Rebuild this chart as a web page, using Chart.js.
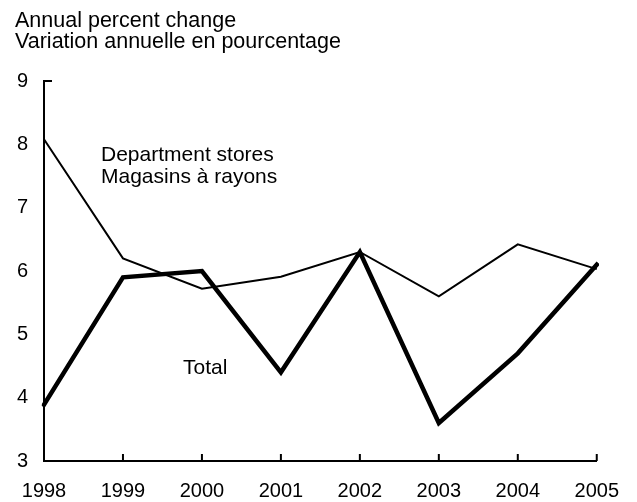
<!DOCTYPE html>
<html>
<head>
<meta charset="utf-8">
<script src="https://cdn.jsdelivr.net/npm/chart.js@4"></script>
<style>
  html, body { margin: 0; padding: 0; background: #fff; }
  #wrap { width: 637px; height: 502px; }
</style>
</head>
<body>
<div id="wrap"><canvas id="chart"></canvas></div>
<script>
// data
const years = ["1998", "1999", "2000", "2001", "2002", "2003", "2004", "2005"];
const departmentStores = [8.08, 6.2, 5.72, 5.91, 6.3, 5.6, 6.42, 6.03];
const total = [3.89, 5.9, 6.0, 4.4, 6.3, 3.6, 4.7, 6.1];
const yTicks = [3, 4, 5, 6, 7, 8, 9];

const FONT = "'Liberation Sans', Arial, sans-serif";

// axis tick marks and text labels
const decor = {
  id: "decor",
  afterDraw(chart) {
    const ctx = chart.ctx;
    const x = chart.scales.x, y = chart.scales.y;
    const bottom = chart.chartArea.bottom, left = chart.chartArea.left;
    ctx.save();
    ctx.strokeStyle = "#000";
    ctx.lineWidth = 2;
    ctx.beginPath();
    for (let i = 1; i < years.length; i++) {
      const px = x.getPixelForTick(i);
      ctx.moveTo(px, bottom);
      ctx.lineTo(px, bottom - 7);
    }
    const top = y.getPixelForValue(9);
    ctx.moveTo(left - 1, top);
    ctx.lineTo(left + 8, top);
    ctx.stroke();

    ctx.fillStyle = "#000";
    ctx.textBaseline = "alphabetic";
    ctx.textAlign = "left";
    ctx.font = "21.5px " + FONT;
    ctx.fillText("Annual percent change", 15, 27);
    ctx.fillText("Variation annuelle en pourcentage", 15, 48);
    ctx.font = "21px " + FONT;
    ctx.fillText("Department stores", 101, 161);
    ctx.fillText("Magasins à rayons", 101, 183);
    ctx.fillText("Total", 183, 374);
    ctx.restore();
  }
};

new Chart(document.getElementById("chart"), {
  type: "line",
  data: {
    labels: years,
    datasets: [
      {
        label: "Department stores / Magasins à rayons",
        data: departmentStores,
        borderColor: "#000",
        borderWidth: 2,
        pointRadius: 0,
        tension: 0,
      },
      {
        label: "Total",
        data: total,
        borderColor: "#000",
        borderWidth: 4.5,
        pointRadius: 0,
        tension: 0,
        borderCapStyle: "square",
      },
    ],
  },
  options: {
    responsive: true,
    maintainAspectRatio: false,
    animation: false,
    layout: { padding: { left: 0, top: 81, right: 35, bottom: 0 } },
    plugins: { legend: { display: false }, tooltip: { enabled: false } },
    scales: {
      x: {
        offset: false,
        grid: { display: false, drawTicks: false },
        border: { display: true, color: "#000", width: 2 },
        ticks: {
          color: "#000",
          font: { family: FONT, size: 20 },
          padding: 18,
          maxRotation: 0,
          autoSkip: false,
        },
        afterFit(scale) { scale.height = 41; },
      },
      y: {
        min: 3,
        max: 9,
        afterBuildTicks(scale) { scale.ticks = yTicks.map(v => ({ value: v })); },
        grid: { display: false, drawTicks: false },
        border: { display: true, color: "#000", width: 2 },
        ticks: {
          color: "#000",
          font: { family: FONT, size: 20 },
          padding: 16,
        },
        afterFit(scale) { scale.width = 44; },
      },
    },
  },
  plugins: [decor],
});
</script>
</body>
</html>
